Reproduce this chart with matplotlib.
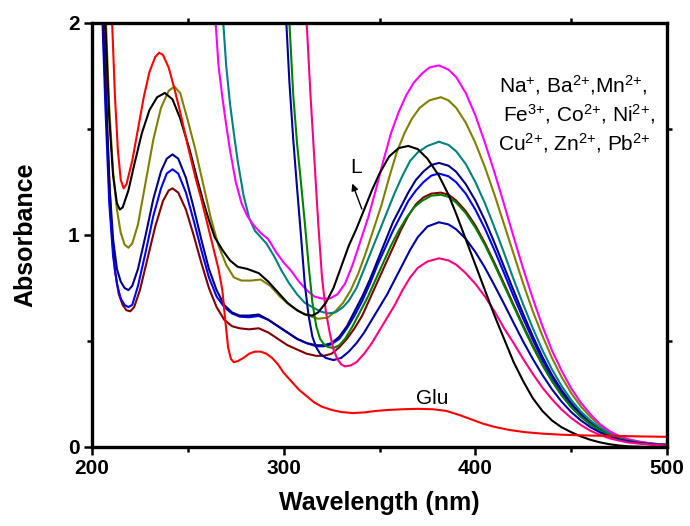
import matplotlib
matplotlib.use("Agg")
import matplotlib.pyplot as plt
from matplotlib.ticker import FixedLocator

plt.rcParams['font.family'] = ['Liberation Sans', 'DejaVu Sans']
plt.rcParams['mathtext.fontset'] = 'custom'
plt.rcParams['mathtext.rm'] = 'Liberation Sans'
plt.rcParams['mathtext.it'] = 'Liberation Sans:italic'
plt.rcParams['mathtext.bf'] = 'Liberation Sans:bold'

# ---------------- data (wavelength in nm, absorbance) ----------------
wl_L = [205, 207, 209, 211, 213, 214.5, 216, 219, 222, 226, 230, 234, 238, 242, 246, 251, 255, 258,
        261, 264, 268, 272, 276, 281, 287, 292, 297, 302, 307, 311, 315, 318, 322, 326, 330, 334, 338,
        342, 346, 350, 355, 360, 365, 370, 375, 381, 386, 390, 395, 400, 405, 410, 415, 420, 425, 430,
        435, 440, 445, 450, 455, 460, 465, 470, 475, 480, 490, 500]
abs_L = [2.4, 2.0, 1.55, 1.28, 1.15, 1.12, 1.13, 1.21, 1.33, 1.48, 1.59, 1.65, 1.67, 1.64, 1.55, 1.40, 1.26, 1.16,
         1.07, 0.99, 0.93, 0.88, 0.85, 0.84, 0.82, 0.78, 0.73, 0.68, 0.645, 0.625, 0.62, 0.635, 0.68, 0.75, 0.85, 0.95, 1.03,
         1.12, 1.21, 1.29, 1.37, 1.41, 1.42, 1.405, 1.36, 1.28, 1.19, 1.10, 0.98, 0.86, 0.74, 0.62, 0.51, 0.40, 0.31, 0.23,
         0.17, 0.125, 0.093, 0.07, 0.05, 0.034, 0.022, 0.013, 0.007, 0.003, 0.0, 0.0]

wl_Glu = [209, 210.5, 212, 213.5, 215, 216.5, 218, 221, 224, 227, 230, 233, 235, 237, 240, 243, 246, 250, 254, 257,
          260, 263, 266, 268, 269.5, 271, 272.5, 274, 276, 279, 282, 285, 288, 291, 294, 297, 300, 304, 308, 312,
          316, 320, 325, 330, 336, 342, 348, 355, 362, 370, 378, 385, 392, 398, 404, 410, 418, 426, 435, 445,
          455, 465, 475, 485, 500]
abs_Glu = [2.4, 2.0, 1.65, 1.40, 1.26, 1.22, 1.24, 1.35, 1.50, 1.65, 1.77, 1.84, 1.86, 1.85, 1.79, 1.69, 1.58, 1.42, 1.27, 1.17,
           1.06, 0.95, 0.84, 0.74, 0.60, 0.47, 0.415, 0.40, 0.405, 0.42, 0.44, 0.45, 0.45, 0.44, 0.42, 0.39, 0.35, 0.31, 0.27, 0.24,
           0.21, 0.19, 0.175, 0.165, 0.16, 0.163, 0.17, 0.175, 0.178, 0.18, 0.178, 0.17, 0.15, 0.13, 0.11, 0.095, 0.08, 0.07, 0.063, 0.058,
           0.055, 0.053, 0.052, 0.05, 0.048]

wl_olive = [206, 209, 211, 213, 215, 217, 219, 221, 224, 228, 232, 236, 240, 243, 246, 250, 254, 258, 262, 266,
            270, 274, 278, 283, 288, 293, 298, 303, 308, 313, 318, 323, 327, 331, 335, 339, 343, 347, 351, 355,
            359, 363, 367, 371, 376, 382, 386, 390, 395, 400, 405, 410, 415, 420, 425, 430, 435, 440, 445, 450,
            455, 460, 465, 470, 475, 480, 485, 490, 495, 500]
abs_olive = [2.3, 1.6, 1.3, 1.12, 1.01, 0.955, 0.94, 0.96, 1.05, 1.25, 1.45, 1.60, 1.68, 1.70, 1.67, 1.54, 1.40, 1.24, 1.08, 0.95,
             0.86, 0.80, 0.785, 0.785, 0.79, 0.76, 0.71, 0.67, 0.64, 0.62, 0.605, 0.61, 0.64, 0.68, 0.74, 0.82, 0.92, 1.03, 1.14, 1.27,
             1.39, 1.48, 1.55, 1.60, 1.635, 1.65, 1.635, 1.60, 1.53, 1.435, 1.32, 1.19, 1.05, 0.91, 0.77, 0.64, 0.525, 0.42, 0.33, 0.255,
             0.192, 0.142, 0.102, 0.072, 0.051, 0.036, 0.026, 0.019, 0.014, 0.011]

wl_navy = [204, 207, 209, 211, 213, 215, 217, 219, 221, 224, 228, 232, 236, 239, 242, 245, 249, 253, 257, 261,
           265, 269, 273, 277, 282, 287, 292, 297, 302, 307, 312, 317, 321, 325, 329, 333, 337, 341, 345, 349,
           353, 357, 361, 365, 369, 373, 377, 381, 386, 390, 395, 400, 405, 410, 415, 420, 425, 430, 435, 440,
           445, 450, 455, 460, 465, 470, 475, 480, 485, 490, 495, 500]
abs_navy = [2.4, 1.7, 1.25, 0.98, 0.84, 0.78, 0.75, 0.74, 0.76, 0.84, 1.00, 1.17, 1.30, 1.36, 1.38, 1.36, 1.27, 1.13, 0.98, 0.84,
            0.74, 0.67, 0.635, 0.62, 0.62, 0.625, 0.60, 0.57, 0.54, 0.51, 0.49, 0.48, 0.48, 0.49, 0.52, 0.57, 0.64, 0.71, 0.79, 0.88,
            0.97, 1.06, 1.13, 1.20, 1.26, 1.30, 1.33, 1.34, 1.327, 1.298, 1.24, 1.163, 1.07, 0.963, 0.85, 0.737, 0.627, 0.522, 0.425, 0.34,
            0.268, 0.207, 0.157, 0.117, 0.085, 0.061, 0.043, 0.031, 0.022, 0.016, 0.012, 0.01]

wl_blue = [204, 207, 209, 211, 213, 215, 217, 219, 221, 224, 228, 232, 236, 239, 242, 245, 249, 253, 257, 261,
           265, 269, 273, 277, 282, 287, 292, 297, 302, 307, 312, 317, 321, 325, 329, 333, 337, 341, 345, 349,
           353, 357, 361, 365, 369, 373, 377, 381, 386, 390, 395, 400, 405, 410, 415, 420, 425, 430, 435, 440,
           445, 450, 455, 460, 465, 470, 475, 480, 485, 490, 495, 500]
abs_blue = [2.4, 1.6, 1.15, 0.90, 0.77, 0.70, 0.67, 0.66, 0.67, 0.76, 0.92, 1.09, 1.22, 1.29, 1.31, 1.29, 1.20, 1.07, 0.93, 0.80,
            0.71, 0.66, 0.63, 0.615, 0.612, 0.618, 0.60, 0.57, 0.54, 0.51, 0.49, 0.475, 0.475, 0.485, 0.51, 0.56, 0.62, 0.69, 0.77, 0.86,
            0.94, 1.02, 1.09, 1.16, 1.21, 1.25, 1.28, 1.29, 1.277, 1.249, 1.195, 1.12, 1.03, 0.928, 0.82, 0.71, 0.605, 0.505, 0.41, 0.33,
            0.26, 0.20, 0.152, 0.113, 0.082, 0.059, 0.042, 0.03, 0.022, 0.016, 0.012, 0.01]

wl_maroon = [200, 200.8, 204, 206.5, 208, 210, 212, 214, 216, 218, 220, 222, 225, 229, 233, 237, 240, 242, 245, 249,
             253, 257, 261, 265, 269, 273, 277, 282, 287, 292, 297, 302, 307, 312, 317, 321, 325, 329, 333, 337,
             341, 345, 349, 353, 357, 361, 365, 369, 373, 377, 382, 386, 390, 395, 400, 405, 410, 415, 420, 425,
             430, 435, 440, 445, 450, 455, 460, 465, 470, 475, 480, 485, 490, 495, 500]
abs_maroon = [1.77, 2.4, 2.6, 2.0, 1.5, 1.05, 0.83, 0.72, 0.67, 0.645, 0.64, 0.66, 0.74, 0.89, 1.04, 1.16, 1.21, 1.22, 1.20, 1.12,
              1.00, 0.87, 0.75, 0.66, 0.60, 0.57, 0.56, 0.555, 0.56, 0.54, 0.51, 0.48, 0.46, 0.44, 0.43, 0.43, 0.44, 0.47, 0.51, 0.56,
              0.62, 0.70, 0.78, 0.86, 0.94, 1.02, 1.09, 1.145, 1.178, 1.195, 1.20, 1.19, 1.163, 1.113, 1.045, 0.962, 0.868, 0.77, 0.67, 0.572,
              0.478, 0.39, 0.313, 0.246, 0.19, 0.145, 0.108, 0.079, 0.057, 0.041, 0.03, 0.022, 0.016, 0.012, 0.01]

wl_magenta = [262, 264.5, 266, 268, 270, 272, 275, 278, 281, 284, 288, 292, 296, 300, 304, 308, 312, 316, 320, 324,
              328, 332, 336, 340, 344, 348, 352, 356, 360, 364, 368, 372, 376, 381, 386, 390, 395, 400, 405, 410,
              415, 420, 425, 430, 435, 440, 445, 450, 455, 460, 465, 470, 475, 480, 485, 490, 495, 500]
abs_magenta = [2.4, 2.0, 1.80, 1.65, 1.52, 1.40, 1.25, 1.15, 1.09, 1.05, 1.01, 0.98, 0.92, 0.87, 0.83, 0.78, 0.74, 0.71, 0.70, 0.70,
               0.72, 0.77, 0.86, 0.97, 1.08, 1.21, 1.35, 1.48, 1.58, 1.66, 1.72, 1.76, 1.79, 1.80, 1.78, 1.745, 1.67, 1.565, 1.435, 1.295,
               1.145, 0.99, 0.84, 0.70, 0.57, 0.455, 0.36, 0.277, 0.21, 0.155, 0.108, 0.075, 0.052, 0.036, 0.026, 0.019, 0.014, 0.011]

wl_teal = [266, 268.5, 270, 272, 274, 276, 279, 282, 285, 288, 291, 295, 299, 303, 307, 311, 315, 319, 323, 327,
           331, 334, 338, 342, 346, 350, 354, 358, 362, 366, 370, 375, 381, 386, 390, 395, 400, 405, 410, 415,
           420, 425, 430, 435, 440, 445, 450, 455, 460, 465, 470, 475, 480, 485, 490, 495, 500]
abs_teal = [2.4, 2.0, 1.80, 1.62, 1.48, 1.35, 1.19, 1.08, 1.02, 0.99, 0.96, 0.90, 0.83, 0.77, 0.72, 0.68, 0.66, 0.64, 0.63, 0.635,
            0.66, 0.69, 0.75, 0.84, 0.93, 1.02, 1.11, 1.20, 1.28, 1.35, 1.39, 1.42, 1.44, 1.425, 1.395, 1.335, 1.25, 1.15, 1.035, 0.915,
            0.79, 0.672, 0.56, 0.457, 0.366, 0.288, 0.222, 0.168, 0.125, 0.091, 0.065, 0.046, 0.033, 0.024, 0.017, 0.013, 0.01]

wl_green = [300, 303, 305, 307, 309, 311, 313, 315, 317, 319, 321, 323, 326, 329, 332, 336, 340, 344, 348, 352,
            356, 360, 364, 368, 372, 377, 382, 386, 390, 395, 400, 405, 410, 415, 420, 425, 430, 435, 440, 445,
            450, 455, 460, 465, 470, 475, 480, 485, 490, 495, 500]
abs_green = [2.5, 2.0, 1.66, 1.43, 1.25, 1.06, 0.86, 0.68, 0.57, 0.51, 0.485, 0.472, 0.467, 0.48, 0.51, 0.57, 0.64, 0.71, 0.79, 0.87,
             0.95, 1.02, 1.08, 1.13, 1.16, 1.185, 1.19, 1.18, 1.153, 1.103, 1.035, 0.953, 0.86, 0.762, 0.663, 0.565, 0.472, 0.386, 0.31, 0.244,
             0.188, 0.143, 0.107, 0.078, 0.056, 0.04, 0.029, 0.021, 0.016, 0.012, 0.01]

wl_navy2 = [298, 301.4, 303, 305, 307, 309, 311, 313, 315, 317, 319, 322, 326, 330, 334, 338, 342, 346, 350, 354,
            358, 362, 366, 370, 375, 381, 386, 390, 395, 400, 405, 410, 415, 420, 425, 430, 435, 440, 445, 450,
            455, 460, 465, 470, 475, 480, 485, 490, 495, 500]
abs_navy2 = [2.5, 2.0, 1.72, 1.45, 1.22, 1.00, 0.77, 0.62, 0.52, 0.47, 0.44, 0.42, 0.41, 0.42, 0.45, 0.49, 0.54, 0.60, 0.66, 0.72,
             0.79, 0.86, 0.93, 0.99, 1.04, 1.06, 1.05, 1.027, 0.982, 0.92, 0.846, 0.762, 0.675, 0.585, 0.497, 0.415, 0.34, 0.272, 0.214, 0.165,
             0.126, 0.094, 0.069, 0.05, 0.036, 0.026, 0.019, 0.014, 0.011, 0.009]

wl_pink = [310, 312, 314, 316, 318, 320, 322, 324, 326, 328, 330, 332, 335, 338, 342, 346, 350, 354, 358, 362,
           366, 370, 375, 381, 386, 390, 395, 400, 405, 410, 415, 420, 425, 430, 435, 440, 445, 450, 455, 460,
           465, 470, 475, 480, 485, 490, 495, 500]
abs_pink = [2.4, 2.0, 1.66, 1.36, 1.06, 0.80, 0.64, 0.54, 0.46, 0.415, 0.39, 0.38, 0.385, 0.40, 0.44, 0.49, 0.55, 0.61, 0.67, 0.74,
            0.80, 0.845, 0.875, 0.89, 0.88, 0.86, 0.82, 0.77, 0.71, 0.64, 0.56, 0.49, 0.415, 0.345, 0.28, 0.225, 0.177, 0.137, 0.104, 0.077,
            0.057, 0.041, 0.03, 0.021, 0.016, 0.012, 0.009, 0.007]

series = [
    (wl_maroon, abs_maroon, '#800000'),
    (wl_blue, abs_blue, '#0000FF'),
    (wl_navy, abs_navy, '#000080'),
    (wl_olive, abs_olive, '#808000'),
    (wl_teal, abs_teal, '#008080'),
    (wl_magenta, abs_magenta, '#FF00FF'),
    (wl_green, abs_green, '#008000'),
    (wl_navy2, abs_navy2, '#0000A0'),
    (wl_pink, abs_pink, '#FF0080'),
    (wl_L, abs_L, '#000000'),
    (wl_Glu, abs_Glu, '#FF0000'),
]

x_major = [200, 300, 400, 500]
x_minor = [250, 350, 450]
y_major = [0, 1, 2]
y_minor = [0.5, 1.5]

# '{+}' keeps mathtext from adding binary-operator spacing after the digit
ion_lines = ["Na$^{+}$, Ba$^{2{+}}$,Mn$^{2{+}}$,",
             "Fe$^{3{+}}$, Co$^{2{+}}$, Ni$^{2{+}}$,",
             "Cu$^{2{+}}$, Zn$^{2{+}}$, Pb$^{2{+}}$"]

# ---------------- figure ----------------
fig = plt.figure(figsize=(6.9, 5.26), dpi=100)
ax = fig.add_axes([92/690, 1-447/526, 575/690, 424/526])

for xs, ys, c in series:
    ax.plot(xs, ys, color=c, lw=1.5, solid_joinstyle='round')

ax.set_xlim(200, 500)
ax.set_ylim(0, 2)

ax.xaxis.set_major_locator(FixedLocator(x_major))
ax.xaxis.set_minor_locator(FixedLocator(x_minor))
ax.yaxis.set_major_locator(FixedLocator(y_major))
ax.yaxis.set_minor_locator(FixedLocator(y_minor))

for s in ax.spines.values():
    s.set_linewidth(2.4)

ax.tick_params(which='major', direction='out', length=6, width=1.8, labelsize=15, pad=3)
ax.tick_params(which='minor', direction='out', length=3.8, width=1.8)
ax.tick_params(which='minor', right=True, top=True)
for lab in ax.get_xticklabels() + ax.get_yticklabels():
    lab.set_fontweight('bold')

ax.set_xlabel('Wavelength (nm)', fontsize=18, fontweight='bold')
ax.set_ylabel('Absorbance', fontsize=18, fontweight='bold')
ax.xaxis.set_label_coords(0.5, -0.103)
ax.yaxis.set_label_coords(-0.095, 0.5)

# annotations
ax.text(338, 1.32, 'L', fontsize=15, ha='center', va='center')
ax.annotate('', xy=(335.3, 1.255), xytext=(341.3, 1.11),
            arrowprops=dict(arrowstyle='-|>', color='black', lw=1.0, mutation_scale=10))
ax.text(377.6, 0.227, 'Glu', fontsize=15, ha='center', va='center')

ion_y = [1.709, 1.572, 1.435]
ion_x = [451.0, 454.0, 451.6]
for t, xx, yy in zip(ion_lines, ion_x, ion_y):
    ax.text(xx, yy, t, fontsize=15, ha='center', va='center')

fig.savefig('out.png', dpi=100)
